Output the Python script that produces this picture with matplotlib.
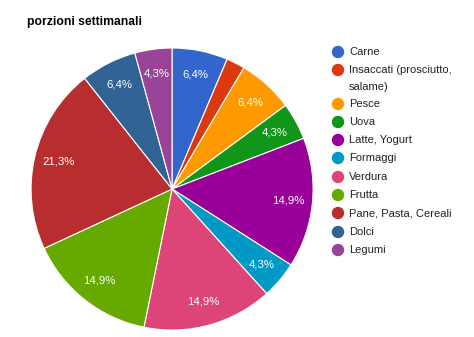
import matplotlib
matplotlib.use("Agg")
import matplotlib.pyplot as plt
from matplotlib.patches import Ellipse

categories = ["Carne", "Insaccati (prosciutto,\nsalame)", "Pesce", "Uova", "Latte, Yogurt",
              "Formaggi", "Verdura", "Frutta", "Pane, Pasta, Cereali", "Dolci", "Legumi"]
values = [3, 1, 3, 2, 7, 2, 7, 7, 10, 3, 2]
colors = ["#3366CC", "#DC3912", "#FF9900", "#109618", "#990099", "#0099C6",
          "#DD4477", "#66AA00", "#B82E2E", "#316395", "#994499"]
title = "porzioni settimanali"

plt.rcParams['font.family'] = ['Liberation Sans', 'DejaVu Sans']

fig = plt.figure(figsize=(4.74, 3.37), dpi=100)
ax = fig.add_axes([0.0655, 0.0206, 0.595, 0.837])

def fmt(p):
    if p < 3:
        return ""
    return f"{p:.1f}%".replace(".", ",")

wedges, texts, autotexts = ax.pie(values, colors=colors, startangle=90, counterclock=False,
                                  autopct=fmt, pctdistance=0.83,
                                  wedgeprops=dict(edgecolor="white", linewidth=0.8),
                                  textprops=dict(color="white", fontsize=8.2))
ax.set_aspect("equal")
ax.set_xlim(-1, 1)
ax.set_ylim(-1, 1)

fig.text(27/474, 1 - 22/337, title, fontsize=8.7, fontweight="bold", va="center", ha="left")

ys = [52, 70, 104, 122, 140, 158, 177, 195, 213, 232, 250]
for cat, col, y in zip(categories, colors, ys):
    fig.add_artist(Ellipse((338/474, 1 - y/337), 11/474, 11/337,
                           transform=fig.transFigure, color=col))
    lines = cat.split("\n")
    for i, line in enumerate(lines):
        fig.text(349/474, 1 - (y + 17 * i)/337, line, fontsize=8, va="center",
                 ha="left", color="#222222")

fig.savefig("out.png", dpi=100)
